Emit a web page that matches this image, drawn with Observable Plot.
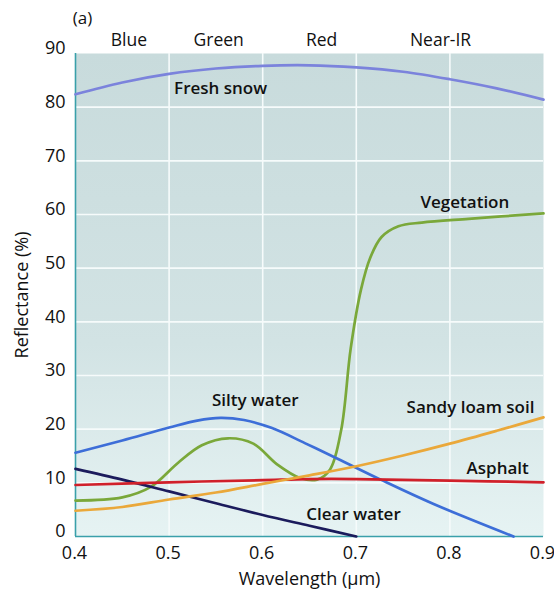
<!DOCTYPE html>
<html>
<head>
<meta charset="utf-8">
<script src="https://cdn.jsdelivr.net/npm/d3@7"></script>
<script src="https://cdn.jsdelivr.net/npm/@observablehq/plot@0.6"></script>
<style>
  body { margin: 0; background: #ffffff; }
  #chart svg { display: block; }
</style>
</head>
<body>
<div id="chart"></div>
<script>
// ---- Data ----
const xTicks = [0.4, 0.5, 0.6, 0.7, 0.8, 0.9];
const yTicks = [0, 10, 20, 30, 40, 50, 60, 70, 80, 90];

const snowX = [0.4, 0.45, 0.5, 0.55, 0.6, 0.65, 0.7, 0.75, 0.8, 0.85, 0.9];
const snowY = [82.4, 84.6, 86.2, 87.2, 87.7, 87.8, 87.4, 86.6, 85.2, 83.5, 81.4];

const vegX = [0.4, 0.45, 0.48, 0.51, 0.535, 0.563, 0.59, 0.615, 0.64, 0.658, 0.672, 0.684, 0.694, 0.705, 0.715, 0.727, 0.745, 0.77, 0.82, 0.9];
const vegY = [6.7, 7.3, 9.2, 13.8, 17.0, 18.3, 17.3, 13.5, 10.9, 10.6, 12.5, 20.0, 35.0, 46.0, 52.0, 55.8, 57.8, 58.5, 59.2, 60.2];

const siltX = [0.4, 0.45, 0.5, 0.53, 0.555, 0.58, 0.61, 0.645, 0.68, 0.726, 0.782, 0.868];
const siltY = [15.6, 17.9, 20.3, 21.6, 22.1, 21.7, 20.2, 17.4, 14.5, 10.6, 6.1, 0];

const clearX = [0.4, 0.45, 0.5, 0.55, 0.6, 0.65, 0.7];
const clearY = [12.6, 10.6, 8.4, 6.2, 4.0, 2.0, 0];

const asphaltX = [0.4, 0.5, 0.6, 0.65, 0.7, 0.8, 0.9];
const asphaltY = [9.6, 10.1, 10.5, 10.7, 10.7, 10.4, 10.1];

const soilX = [0.4, 0.45, 0.5, 0.55, 0.6, 0.65, 0.7, 0.75, 0.8, 0.85, 0.9];
const soilY = [4.8, 5.5, 6.9, 8.2, 9.8, 11.4, 13.1, 15.1, 17.3, 19.7, 22.2];

const seriesNames = ["Fresh snow", "Vegetation", "Silty water", "Clear water", "Asphalt", "Sandy loam soil"];
const seriesColors = ["#7b83dc", "#7aa83a", "#3d6ed8", "#1b1b5c", "#d0202a", "#eaa83a"];
const seriesXs = [snowX, vegX, siltX, clearX, asphaltX, soilX];
const seriesYs = [snowY, vegY, siltY, clearY, asphaltY, soilY];

// label positions (data coords)
const labelText = ["Fresh snow", "Vegetation", "Silty water", "Sandy loam soil", "Asphalt", "Clear water"];
const labelX = [0.555, 0.816, 0.592, 0.822, 0.851, 0.697];
const labelY = [83.4, 62.2, 25.3, 24.0, 12.7, 4.1];

const bandText = ["Blue", "Green", "Red", "Near-IR"];
const bandX = [0.457, 0.553, 0.663, 0.79];
const bandY = 92.4;

// ---- Build rows ----
const rows = [];
seriesNames.forEach((name, i) => {
  seriesXs[i].forEach((x, j) => rows.push({series: name, x, y: seriesYs[i][j]}));
});
const labels = labelText.map((t, i) => ({t, x: labelX[i], y: labelY[i]}));
const bands = bandText.map((t, i) => ({t, x: bandX[i], y: bandY}));

const font = "'Open Sans', 'DejaVu Sans', sans-serif";

const chart = Plot.plot({
  width: 554,
  height: 590,
  marginTop: 53,
  marginLeft: 75,
  marginRight: 11,
  marginBottom: 54,
  style: {fontFamily: font, background: "#ffffff", color: "#111"},
  x: {domain: [0.4, 0.9]},
  y: {domain: [0, 90]},
  color: {domain: seriesNames, range: seriesColors},
  marks: [
    Plot.frame({fill: "url(#bggrad)", stroke: null}),
    Plot.gridY(yTicks.filter(d => d > 0 && d < 90), {stroke: "#f6fbfb", strokeOpacity: 1, strokeWidth: 1.6}),
    Plot.gridX(xTicks.filter(d => d > 0.4 && d < 0.9), {stroke: "#f6fbfb", strokeOpacity: 1, strokeWidth: 1.6}),
    Plot.ruleX([0.4], {stroke: "#3aa0aa", strokeWidth: 1.6}),
    Plot.ruleY([0], {stroke: "#3aa0aa", strokeWidth: 1.6}),
    Plot.line(rows, {x: "x", y: "y", z: "series", stroke: "series", strokeWidth: 2.7, curve: "catmull-rom"}),
    Plot.text(labels, {x: "x", y: "y", text: "t", fontSize: 17, fontWeight: 600, fill: "#111"}),
    Plot.text(bands, {x: "x", y: "y", text: "t", fontSize: 17.5, fontWeight: 500, fill: "#111"}),
    Plot.text(["(a)"], {x: 0.397, y: 96.6, text: d => d, textAnchor: "start", fontSize: 17, fontWeight: 500, fill: "#111"}),
    Plot.axisX({ticks: xTicks, tickSize: 0, tickPadding: 10, dx: -1, tickFormat: d => d.toFixed(1), fontSize: 18,
      label: "Wavelength (μm)", labelAnchor: "center", labelArrow: "none", labelOffset: 48}),
    Plot.axisY({ticks: yTicks, tickSize: 0, tickPadding: 10, dy: -5, fontSize: 18,
      label: "Reflectance (%)", labelAnchor: "center", labelArrow: "none", labelOffset: 60})
  ]
});

// gradient background for the plot area
const defs = d3.select(chart).insert("defs", ":first-child");
const g = defs.append("linearGradient").attr("id", "bggrad").attr("x1", 0).attr("y1", 0).attr("x2", 0).attr("y2", 1);
g.append("stop").attr("offset", "0%").attr("stop-color", "#c8dbdc");
g.append("stop").attr("offset", "60%").attr("stop-color", "#d2e3e4");
g.append("stop").attr("offset", "100%").attr("stop-color", "#e6f3f3");

document.getElementById("chart").appendChild(chart);
</script>
</body>
</html>
